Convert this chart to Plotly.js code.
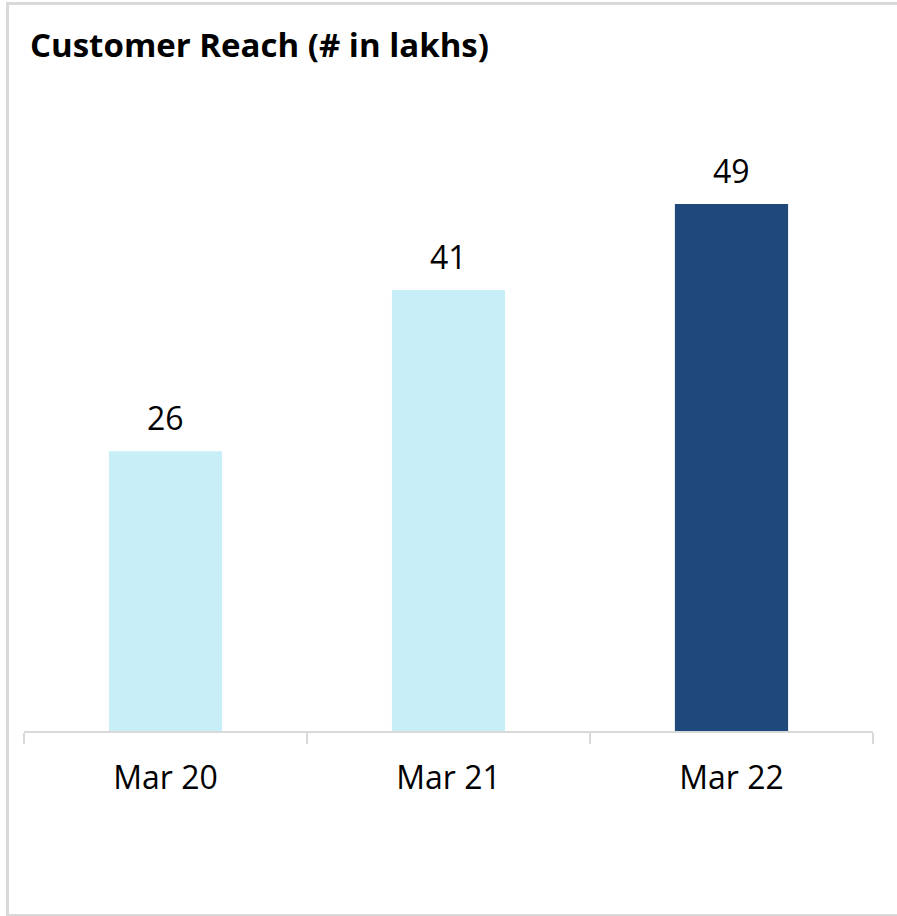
<!DOCTYPE html>
<html>
<head>
<meta charset="utf-8">
<script src="https://cdn.plot.ly/plotly-3.0.1.min.js"></script>
<style>
body { margin: 0; background: #fff; }
#wrap { position: relative; width: 897px; height: 916px; overflow: hidden; }
#myDiv { width: 897px; height: 916px; }
#frame { position: absolute; left: 6px; top: 2px; width: 900px; height: 909px; border: 3px solid #d9d9d9; pointer-events: none; }
</style>
</head>
<body>
<div id="wrap">
<div id="myDiv"></div>
<div id="frame"></div>
</div>
<script>
var months = ["Mar 20", "Mar 21", "Mar 22"];
var reach = [26, 41, 49];
var barColors = ['#C8EEF7', '#C8EEF7', '#1F497B'];

var trace1 = {
    type: 'bar',
    x: months,
    y: reach,
    marker: { color: barColors },
    hoverinfo: 'none'
};

var labels = months.map(function (m, i) {
    return {
        x: m, y: reach[i], text: String(reach[i]),
        showarrow: false, yanchor: 'bottom', yshift: 10,
        font: { family: 'Open Sans', size: 32, color: '#000' }
    };
});

var layout = {
    width: 897,
    height: 916,
    margin: { l: 24, r: 24, t: 100, b: 185 },
    paper_bgcolor: '#fff',
    plot_bgcolor: '#fff',
    showlegend: false,
    bargap: 0.6,
    title: {
        text: '<b>Customer Reach (# in lakhs)</b>',
        font: { family: 'Open Sans', size: 33, color: '#000' },
        xref: 'container', yref: 'container',
        x: 30 / 897, xanchor: 'left',
        y: 1 - 45 / 916, yanchor: 'middle'
    },
    xaxis: {
        showline: true, linecolor: '#d9d9d9', linewidth: 2,
        ticks: 'outside', tickson: 'boundaries', ticklen: 11,
        tickcolor: '#d9d9d9', tickwidth: 2,
        ticklabelstandoff: 18,
        tickfont: { family: 'Open Sans', size: 32, color: '#000' },
        showgrid: false, fixedrange: true
    },
    yaxis: {
        visible: false, range: [0, 58.67], fixedrange: true
    },
    annotations: labels
};

var config = { staticPlot: true };

Plotly.newPlot('myDiv', [trace1], layout, config);
</script>
</body>
</html>
